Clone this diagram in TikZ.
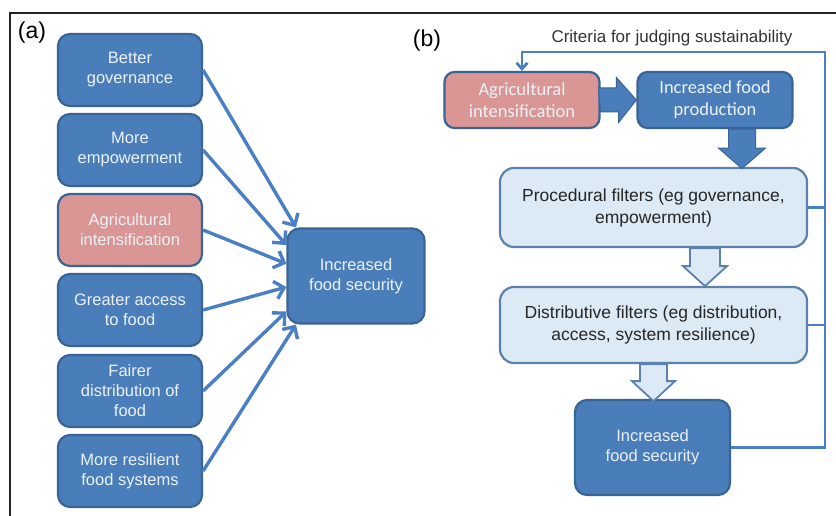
\documentclass[tikz,border=0pt]{standalone}
\usepackage{fontspec}
\setmainfont{Liberation Sans}
\newfontfamily\calibri{Carlito}
\usetikzlibrary{arrows.meta,positioning}
\definecolor{boxblue}{HTML}{4A7EBB}
\definecolor{boxline}{HTML}{3A6396}
\definecolor{boxpink}{HTML}{D99694}
\definecolor{boxpale}{HTML}{DCEAF5}
\definecolor{paleline}{HTML}{5C81AC}
\definecolor{arrowblue}{HTML}{4A7FC4}
\definecolor{boxtext}{HTML}{ECF1F7}
\tikzstyle{lbox}=[draw=boxline,line width=2.2pt,rounded corners=12pt,fill=boxblue,text=boxtext,minimum width=144pt,minimum height=72pt,inner sep=2pt,align=center,font=\fontsize{16.5}{20}\selectfont]
\tikzstyle{bbox}=[lbox,rounded corners=10pt,minimum width=155pt,minimum height=56pt,font=\calibri\fontsize{18.5}{22}\selectfont]
\tikzstyle{filt}=[draw=paleline,line width=2.2pt,rounded corners=14pt,fill=boxpale,text=black!85,minimum width=307pt,inner sep=2pt,align=center,font=\fontsize{17.5}{22}\selectfont]
\tikzstyle{panel}=[inner sep=0pt,font=\fontsize{23}{26}\selectfont]
\tikzstyle{edge}=[draw=arrowblue,line width=3.4pt,-{Straight Barb[length=9pt,width=18pt]}]
\tikzstyle{fb}=[draw=arrowblue,line width=2.8pt]
\tikzstyle{fat}=[fill=boxblue,draw=boxline,line width=1pt,line join=miter]
\tikzstyle{hollow}=[fill=boxpale,draw=paleline,line width=1.8pt,line join=miter]

\begin{document}
\begin{tikzpicture}[x=1pt,y=-1pt]
    \useasboundingbox (0,0) rectangle (836,516);
    % frame and panel letters
    \draw[line width=1.3pt,black!85] (10,516) -- (10,13) -- (836,13);
    \node[panel] (pa) at (32,33) {(a)};
    \node[panel] (pb) at (427,41) {(b)};

    % (a) six routes into food security
    \foreach \pos/\name/\col/\txt in {(130,70)/gov/boxblue/{Better\\governance}, (130,150)/emp/boxblue/{More\\empowerment}, (130,230)/agra/boxpink/{Agricultural\\intensification}, (130,310)/acc/boxblue/{Greater access\\to food}, (130,391)/dist/boxblue/{Fairer\\distribution of\\food}, (130,471)/res/boxblue/{More resilient\\food systems}}
        \node[lbox,fill=\col] (\name) at \pos {\txt};
    \node[lbox,minimum width=137pt,minimum height=95pt] (fsa) at (356,276) {Increased\\food security};

    \foreach \source/\ang in {gov/141, emp/156, agra/170, acc/189, dist/207, res/219}
        \path[edge] (\source.east) -- (fsa.\ang);

    % (b) the filters
    \node[bbox,fill=boxpink] (agb) at (522,100) {Agricultural\\intensification};
    \node[bbox] (fpb) at (715,100) {Increased food\\production};
    \node[filt,minimum height=79pt] (pf) at (653.5,207.5) {Procedural filters (eg governance,\\empowerment)};
    \node[filt,minimum height=76pt] (df) at (653.5,325) {Distributive filters (eg distribution,\\access, system resilience)};
    \node[lbox,minimum width=155pt,minimum height=95pt] (fsb) at (652.5,447.5) {Increased\\food security};

    % block arrows
    \filldraw[fat] (agb.east) ++(0,12) -- ++(18,0) -- ++(0,10.5) -- (fpb.west) -- ++(-20,-22.5) -- ++(0,10.5) -- ++(-18,0) -- cycle;
    \filldraw[fat] (fpb.south) ++(13.5,0) -- ++(0,19) -- ++(-10,0) -- ++(23.5,20.5) -- ++(23.5,-20.5) -- ++(-10,0) -- ++(0,-19) -- cycle;
    \filldraw[hollow] (pf.south) ++(36.5,0) -- ++(0,18) -- ++(-7,0) -- ++(22,20) -- ++(22,-20) -- ++(-7,0) -- ++(0,-18) -- cycle;
    \filldraw[hollow] (df.south) ++(-13.5,0) -- ++(0,17) -- ++(-8,0) -- ++(21.5,20) -- ++(21.5,-20) -- ++(-8,0) -- ++(0,-17) -- cycle;

    % feedback loop
    \coordinate (fbr) at (825,52);
    \node[text=black!80,font=\fontsize{17}{20}\selectfont] (crit) at (672,38) {Criteria for judging sustainability};
    \draw[fb,-{Straight Barb[length=6pt,width=11pt]}] (fsb.east) -| (fbr) -| (agb.north);
    \draw[fb] (pf.east) -- (pf.east -| fbr);
    \draw[fb] (df.east) -- (df.east -| fbr);
\end{tikzpicture}
\end{document}
